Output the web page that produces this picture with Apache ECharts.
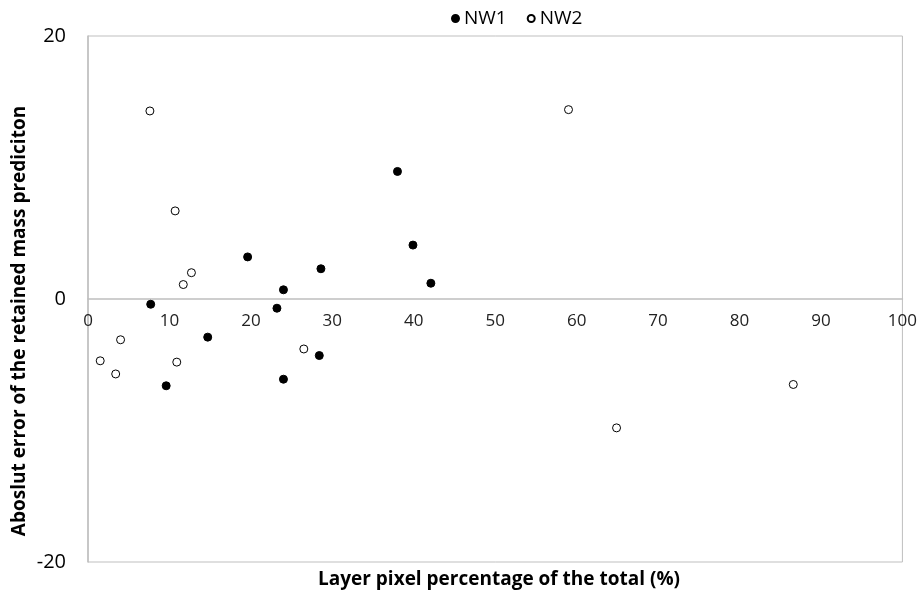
<!DOCTYPE html>
<html>
<head>
<meta charset="utf-8">
<script src="https://cdn.jsdelivr.net/npm/echarts@6/dist/echarts.min.js"></script>
<style>
  html, body { margin: 0; padding: 0; background: #fff; }
  #chart { width: 920px; height: 594px; }
</style>
</head>
<body>
<div id="chart"></div>
<script>
// NW1 (filled markers)
var nw1X = [7.7, 9.6, 14.7, 19.6, 23.2, 24.0, 24.0, 28.4, 28.6, 38.0, 39.9, 42.1];
var nw1Y = [-0.4, -6.6, -2.9, 3.2, -0.7, 0.7, -6.1, -4.3, 2.3, 9.7, 4.1, 1.2];
// NW2 (open markers)
var nw2X = [1.5, 3.4, 4.0, 7.6, 10.7, 10.9, 11.7, 12.7, 26.5, 59.0, 64.9, 86.6];
var nw2Y = [-4.7, -5.7, -3.1, 14.3, 6.7, -4.8, 1.1, 2.0, -3.8, 14.4, -9.8, -6.5];

var xTicks = [0, 10, 20, 30, 40, 50, 60, 70, 80, 90, 100];
var yTicks = [-20, 0, 20];

function pairs(xs, ys) {
    var out = [];
    for (var i = 0; i < xs.length; i++) out.push([xs[i], ys[i]]);
    return out;
}

var font = '"Open Sans", "Liberation Sans", sans-serif';
var chart = echarts.init(document.getElementById('chart'));

var option = {
    animation: false,
    textStyle: { fontFamily: font },
    legend: {
        top: 4,
        left: 446,
        itemWidth: 7,
        itemHeight: 7,
        itemGap: 20,
        textStyle: { fontSize: 19, color: '#000', fontFamily: font },
        data: [
            { name: 'NW1', icon: 'circle' },
            { name: 'NW2', icon: 'circle' }
        ]
    },
    grid: {
        left: 88,
        right: 13,
        top: 36,
        bottom: 32,
        show: true,
        borderColor: '#bfbfbf',
        borderWidth: 1
    },
    xAxis: {
        type: 'value',
        min: xTicks[0],
        max: xTicks[xTicks.length - 1],
        interval: 10,
        position: 'bottom',
        offset: -263,
        axisLine: { onZero: false, lineStyle: { color: '#bfbfbf', width: 1.5 } },
        axisTick: { show: false },
        splitLine: { show: false },
        axisLabel: { fontSize: 17, color: '#222', margin: 14, fontFamily: font }
    },
    yAxis: {
        type: 'value',
        min: yTicks[0],
        max: yTicks[yTicks.length - 1],
        interval: 20,
        axisLine: { show: true, lineStyle: { color: '#bfbfbf', width: 1.5 } },
        axisTick: { show: false },
        splitLine: { show: false },
        axisLabel: { fontSize: 20, color: '#000', margin: 22, fontFamily: font }
    },
    graphic: [
        {
            type: 'text',
            x: 499,
            y: 580,
            style: {
                text: 'Layer pixel percentage of the total (%)',
                font: 'bold 19px ' + font,
                fill: '#000',
                align: 'center',
                verticalAlign: 'middle'
            }
        },
        {
            type: 'text',
            rotation: Math.PI / 2,
            x: 20,
            y: 321,
            style: {
                text: 'Aboslut error of the retained mass prediciton',
                font: 'bold 19px ' + font,
                fill: '#000',
                align: 'center',
                verticalAlign: 'middle'
            }
        }
    ],
    series: [
        {
            name: 'NW1',
            type: 'scatter',
            symbol: 'circle',
            symbolSize: 8,
            itemStyle: { color: '#000', borderColor: '#000', borderWidth: 1, opacity: 1 },
            data: pairs(nw1X, nw1Y)
        },
        {
            name: 'NW2',
            type: 'scatter',
            symbol: 'circle',
            symbolSize: 8,
            itemStyle: { color: '#fff', borderColor: '#000', borderWidth: 1, opacity: 1 },
            data: pairs(nw2X, nw2Y)
        }
    ]
};

chart.setOption(option);
</script>
</body>
</html>
